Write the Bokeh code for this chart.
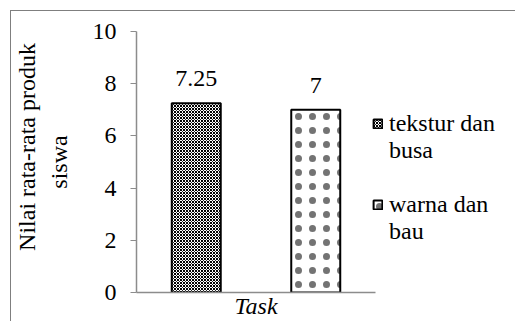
from bokeh.plotting import figure
from bokeh.models import (FactorRange, Range1d, Legend, LegendItem, ColumnDataSource,
                          LabelSet, FixedTicker)
from bokeh.embed import file_html
from bokeh.resources import INLINE

categories = ["tekstur dan busa", "warna dan bau"]
legend_labels = ["tekstur dan\nbusa", "warna dan\nbau"]
values = [7.25, 7]
value_labels = ["7.25", "7"]
y_ticks = [0, 2, 4, 6, 8, 10]
x_title = "Task"
y_title = "\u00a0\u00a0\u00a0\u00a0\u00a0Nilai rata-rata produk\nsiswa"

FONT = "Liberation Serif"
FS = "24px"
GRAY = "#8c8c8c"

p = figure(frame_width=239, frame_height=261, output_backend="svg", toolbar_location=None,
           x_range=FactorRange(factors=categories, range_padding=0),
           y_range=Range1d(0, 10),
           min_border_left=123, min_border_right=0, min_border_top=20, min_border_bottom=29)
p.margin = (10, 0, 0, 10)
p.styles = {"border-top": "1px solid #7f7f7f", "border-left": "1px solid #7f7f7f"}
p.outline_line_color = None
p.xgrid.visible = False
p.ygrid.visible = False
p.background_fill_color = "white"
p.border_fill_color = "white"

r1 = p.vbar(x=[categories[0]], top=[values[0]], width=0.41, fill_color="white",
            line_color="black", line_width=2,
            hatch_pattern="diagonal_cross", hatch_scale=3, hatch_weight=1, hatch_color="black")
r2 = p.vbar(x=[categories[1]], top=[values[1]], width=0.41, fill_color="white",
            line_color="black", line_width=2,
            hatch_pattern="dot", hatch_scale=14, hatch_weight=0.1, hatch_color="black",
            hatch_alpha=0.55)

src = ColumnDataSource(dict(x=categories, y=values, t=value_labels))
p.add_layout(LabelSet(x="x", y="y", text="t", source=src, y_offset=17,
                      text_align="center", text_baseline="alphabetic",
                      text_font=FONT, text_font_size=FS, text_color="black"))

# axes
yax = p.yaxis[0]
yax.ticker = FixedTicker(ticks=y_ticks)
yax.minor_tick_line_color = None
yax.major_tick_in = 0
yax.major_tick_out = 6
yax.major_tick_line_color = GRAY
yax.axis_line_color = GRAY
yax.axis_line_width = 1.5
yax.major_label_text_font = FONT
yax.major_label_text_font_size = FS
yax.major_label_text_color = "black"
yax.major_label_standoff = 14
yax.axis_label = y_title
yax.axis_label_text_font = FONT
yax.axis_label_text_font_size = FS
yax.axis_label_text_font_style = "normal"
yax.axis_label_text_color = "black"
yax.axis_label_standoff = 18

xax = p.xaxis[0]
xax.ticker = FixedTicker(ticks=[])
xax.major_tick_line_color = None
xax.minor_tick_line_color = None
xax.major_label_standoff = 0
xax.axis_line_color = GRAY
xax.axis_line_width = 1.5
xax.axis_label = x_title
xax.axis_label_text_font = FONT
xax.axis_label_text_font_size = FS
xax.axis_label_text_font_style = "italic"
xax.axis_label_text_color = "black"
xax.axis_label_standoff = 0

legend = Legend(items=[LegendItem(label="\n" + legend_labels[0], renderers=[r1]),
                       LegendItem(label="\n" + legend_labels[1], renderers=[r2])],
                location=(-3, 47), border_line_color=None, background_fill_alpha=0,
                glyph_width=11, glyph_height=11, label_standoff=6,
                label_text_font=FONT, label_text_font_size=FS,
                label_text_line_height=1.1,
                label_text_color="black", spacing=-27, padding=0, margin=0)
p.add_layout(legend, "right")

open("out.html", "w").write(file_html(p, INLINE))
